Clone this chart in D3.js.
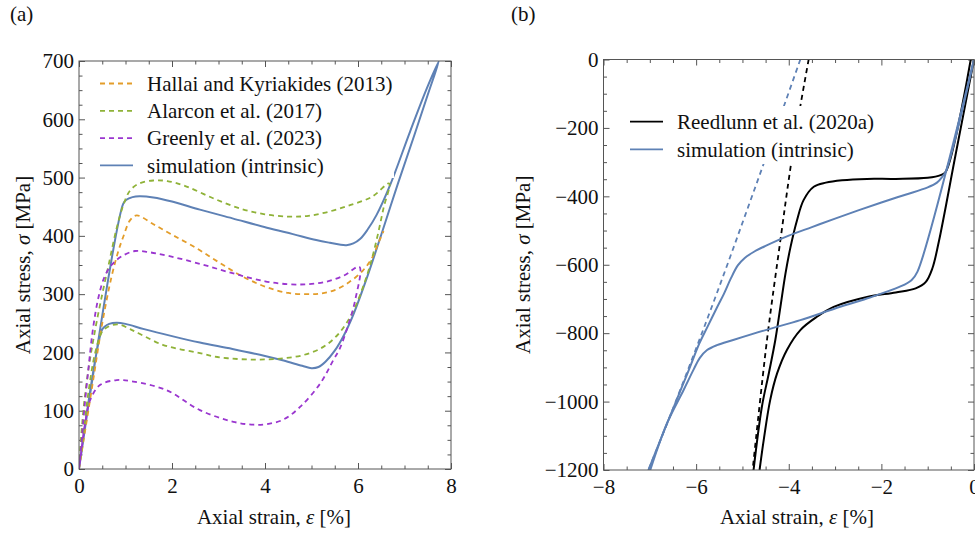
<!DOCTYPE html>
<html>
<head>
<meta charset="utf-8">
<script src="https://cdn.jsdelivr.net/npm/d3@7"></script>
<style>
  html, body { margin: 0; padding: 0; background: #fff; }
  svg { display: block; }
  text { font-family: "Liberation Serif", "Times New Roman", serif; fill: #111; }
</style>
</head>
<body>
<svg id="chart" width="975" height="535"></svg>
<script>
// ---------- Panel (a): tension, [strain %, stress MPa] ----------
const hallai = [
  [0, 0], [0.1, 50], [0.3, 150], [0.5, 250], [0.7, 330], [0.85, 375], [0.95, 398],
  [1.1, 427], [1.24, 435], [1.6, 420], [2.0, 402], [2.5, 380], [3.0, 355], [3.5, 331],
  [4.0, 313], [4.5, 302], [4.9, 300], [5.2, 301], [5.5, 307], [5.8, 320], [6.1, 340],
  [6.3, 362], [6.45, 390], [6.55, 408]
];
const alarcon = [
  [0, 0], [0.05, 60], [0.12, 120], [0.22, 180], [0.35, 240], [0.5, 300], [0.65, 355],
  [0.8, 410], [0.95, 452], [1.1, 478], [1.3, 490], [1.6, 495], [1.9, 494], [2.3, 485],
  [2.9, 464], [3.5, 446], [4.0, 437], [4.5, 433], [4.9, 434], [5.3, 440], [5.8, 452],
  [6.3, 467], [6.67, 490],
  [6.55, 448], [6.42, 400], [6.28, 355], [6.12, 315], [5.95, 280], [5.75, 250],
  [5.5, 225], [5.2, 207], [4.8, 195], [4.4, 190], [4.0, 188], [3.6, 188], [3.2, 190],
  [2.9, 193], [2.6, 199], [2.2, 205], [1.8, 213], [1.4, 228], [1.1, 240], [0.85, 248],
  [0.65, 245], [0.5, 236], [0.35, 200], [0.2, 130], [0.08, 50], [0, 0]
];
const greenly = [
  [0, 0], [0.05, 40], [0.1, 90], [0.2, 170], [0.3, 240], [0.42, 295], [0.55, 330],
  [0.7, 350], [0.9, 364], [1.2, 374], [1.5, 372], [1.9, 366], [2.6, 352], [3.3, 336],
  [4.0, 322], [4.5, 317], [4.9, 317], [5.3, 321], [5.7, 332], [6.03, 347],
  [5.94, 290], [5.79, 247], [5.61, 207], [5.47, 187], [5.19, 147], [4.76, 107],
  [4.4, 85], [4.04, 77], [3.75, 76], [3.32, 81], [2.6, 101], [1.89, 135], [1.17, 150],
  [0.81, 152.5], [0.45, 144], [0.24, 118], [0.13, 78], [0.05, 30], [0, 0]
];
const simulationA = [
  [0, 0], [0.95, 455], [1.02, 462], [1.15, 466.5], [1.3, 468], [1.6, 466], [2.0, 459],
  [2.6, 445], [3.3, 430], [4.04, 414], [4.6, 403], [5.1, 393], [5.4, 388], [5.6, 385],
  [5.75, 384], [5.9, 387], [6.05, 395], [6.2, 410], [6.4, 436], [6.69, 487], [7.12, 579],
  [7.48, 653], [7.74, 700],
  [7.5, 642], [7.2, 570], [6.86, 490], [6.5, 402], [6.2, 330], [5.9, 265], [5.7, 230],
  [5.5, 203], [5.3, 184], [5.15, 175], [5.0, 173], [4.8, 177], [4.4, 186], [4.0, 194],
  [3.3, 206], [2.6, 217], [2.0, 228], [1.4, 240], [1.0, 249], [0.81, 251], [0.65, 249],
  [0.55, 244], [0.49, 238], [0, 0]
];

// ---------- Panel (b): compression, [strain %, stress MPa] ----------
const reedlunnLoading = [
  [0, 0], [-0.4, -280], [-0.76, -533], [-0.9, -611], [-1.04, -650], [-1.26, -669],
  [-1.69, -681], [-2.31, -694], [-3.03, -723], [-3.39, -752], [-3.75, -791],
  [-4.04, -849], [-4.25, -917], [-4.4, -995], [-4.54, -1112], [-4.63, -1200]
];
const reedlunnUnloading = [
  [-4.76, -1200], [-4.58, -1015], [-4.43, -917], [-4.29, -820], [-4.18, -723],
  [-4.07, -625], [-3.96, -547], [-3.82, -469], [-3.68, -411], [-3.46, -372],
  [-3.2, -360], [-2.85, -353], [-2.31, -349], [-1.69, -349], [-1.0, -346],
  [-0.72, -338], [-0.61, -328], [-0.07, 0]
];
const reedlunnElastic = [
  [-3.57, 0], [-3.78, -160], [-3.96, -314], [-4.18, -528], [-4.47, -820], [-4.78, -1200]
];
const simulationLoadingB = [
  [0, 0], [-1.22, -620], [-1.35, -645], [-1.6, -664], [-2.3, -698], [-3.0, -728],
  [-3.75, -762], [-4.5, -791], [-5.2, -820], [-5.55, -835], [-5.77, -850], [-5.92, -872],
  [-6.05, -905], [-6.27, -966], [-6.63, -1064], [-6.99, -1200]
];
const simulationUnloadingB = [
  [-7.03, -1200], [-6.75, -1105], [-6.45, -1005], [-6.15, -905], [-5.93, -830],
  [-5.75, -780], [-5.55, -725], [-5.4, -685], [-5.25, -640], [-5.1, -602],
  [-4.95, -580], [-4.75, -562], [-4.5, -545], [-4.0, -515], [-3.5, -490],
  [-3.0, -465], [-2.5, -441], [-2.0, -418], [-1.5, -396], [-1.0, -374],
  [-0.8, -360], [-0.68, -342], [-0.61, -328], [0, 0]
];
const simulationElasticB = [
  [-3.75, 0], [-4.14, -150], [-4.54, -304], [-4.94, -455], [-5.34, -605],
  [-5.75, -755], [-6.17, -905], [-6.6, -1055], [-7.03, -1200]
];

// ---------- tick labels ----------
const aXTicks = [0, 2, 4, 6, 8];
const aYTicks = [0, 100, 200, 300, 400, 500, 600, 700];
const bXTicks = [-8, -6, -4, -2, 0];
const bYTicks = [-1200, -1000, -800, -600, -400, -200, 0];

// ---------- legends ----------
const legendA = ["Hallai and Kyriakides (2013)", "Alarcon et al. (2017)", "Greenly et al. (2023)", "simulation (intrinsic)"];
const legendB = ["Reedlunn et al. (2020a)", "simulation (intrinsic)"];

// ---------- styling ----------
const COL = { orange: "#E39D2A", green: "#8FB238", purple: "#9A36CF", blue: "#5E81B5", black: "#000" };
const FONT = 21;
const DASH = "5,4";
const FRAME = "#555";
const tickFmt = d3.format("d");

const svg = d3.select("#chart");

function panel(opts) {
  const { id, x, y, xMajor, yMajor, xMinorStep, yMinorStep, series, legend, legendBox, xLabelX, yLabelX, tag, tagX } = opts;
  const g = svg.append("g");
  const [x0, x1] = x.range();
  const [y0, y1] = y.range(); // y0 bottom, y1 top

  g.append("clipPath").attr("id", id).append("rect")
    .attr("x", x0).attr("y", y1).attr("width", x1 - x0).attr("height", y0 - y1);

  // minor tick positions between the labelled ones
  const xd = x.domain(), yd = y.domain();
  const xMinor = d3.range(xd[0], xd[1] + 1e-9, xMinorStep).filter(v => !xMajor.some(m => Math.abs(m - v) < 1e-9));
  const yMinor = d3.range(yd[0], yd[1] + 1e-9, yMinorStep).filter(v => !yMajor.some(m => Math.abs(m - v) < 1e-9));

  const styleAxis = sel => {
    sel.attr("font-family", null).attr("font-size", null);
    sel.select(".domain").remove();
    sel.selectAll(".tick line").attr("stroke", FRAME).attr("stroke-width", 1);
    sel.selectAll(".tick text").attr("font-size", FONT).attr("fill", "#111");
  };

  // bottom
  g.append("g").attr("transform", `translate(0,${y0})`)
    .call(d3.axisBottom(x).tickValues(xMajor).tickSize(-6).tickPadding(9).tickFormat(tickFmt)).call(styleAxis);
  g.append("g").attr("transform", `translate(0,${y0})`)
    .call(d3.axisBottom(x).tickValues(xMinor).tickSize(-3.5).tickFormat("")).call(styleAxis);
  // top
  g.append("g").attr("transform", `translate(0,${y1})`)
    .call(d3.axisTop(x).tickValues(xMajor).tickSize(-6).tickFormat("")).call(styleAxis);
  g.append("g").attr("transform", `translate(0,${y1})`)
    .call(d3.axisTop(x).tickValues(xMinor).tickSize(-3.5).tickFormat("")).call(styleAxis);
  // left
  g.append("g").attr("transform", `translate(${x0},0)`)
    .call(d3.axisLeft(y).tickValues(yMajor).tickSize(-6).tickPadding(5).tickFormat(tickFmt)).call(styleAxis);
  g.append("g").attr("transform", `translate(${x0},0)`)
    .call(d3.axisLeft(y).tickValues(yMinor).tickSize(-3.5).tickFormat("")).call(styleAxis);
  // right
  g.append("g").attr("transform", `translate(${x1},0)`)
    .call(d3.axisRight(y).tickValues(yMajor).tickSize(-6).tickFormat("")).call(styleAxis);
  g.append("g").attr("transform", `translate(${x1},0)`)
    .call(d3.axisRight(y).tickValues(yMinor).tickSize(-3.5).tickFormat("")).call(styleAxis);

  // data curves
  const line = d3.line().x(d => x(d[0])).y(d => y(d[1])).curve(d3.curveCatmullRom.alpha(0.5));
  const plot = g.append("g").attr("clip-path", `url(#${id})`);
  series.forEach(s => {
    plot.append("path").datum(s.data)
      .attr("d", line)
      .attr("fill", "none")
      .attr("stroke", s.color)
      .attr("stroke-width", s.width || 1.8)
      .attr("stroke-dasharray", s.dashed ? DASH : null)
      .attr("stroke-linejoin", "round");
  });

  // legend on a white box that hides curves behind it
  const lg = g.append("g");
  lg.append("rect").attr("x", legendBox.x).attr("y", legendBox.y)
    .attr("width", legendBox.w).attr("height", legendBox.h).attr("fill", "#fff");
  legend.forEach((item, i) => {
    const yy = legendBox.rowY + i * legendBox.rowH;
    lg.append("line").attr("x1", legendBox.lx).attr("x2", legendBox.lx + 33)
      .attr("y1", yy).attr("y2", yy)
      .attr("stroke", item.color).attr("stroke-width", 1.8)
      .attr("stroke-dasharray", item.dashed ? DASH : null);
    lg.append("text").attr("x", legendBox.tx).attr("y", yy).attr("dy", "0.34em")
      .attr("font-size", FONT).text(item.label);
  });

  // frame
  g.append("rect").attr("x", x0).attr("y", y1).attr("width", x1 - x0).attr("height", y0 - y1)
    .attr("fill", "none").attr("stroke", FRAME).attr("stroke-width", 1);

  // axis titles
  const xt = g.append("text").attr("x", xLabelX).attr("y", 524).attr("text-anchor", "middle").attr("font-size", FONT);
  xt.append("tspan").text("Axial strain, ");
  xt.append("tspan").attr("font-style", "italic").text("ε");
  xt.append("tspan").text(" [%]");

  const yt = g.append("text").attr("transform", `translate(${yLabelX},${(y0 + y1) / 2}) rotate(-90)`)
    .attr("text-anchor", "middle").attr("font-size", FONT);
  yt.append("tspan").text("Axial stress, ");
  yt.append("tspan").attr("font-style", "italic").text("σ");
  yt.append("tspan").text(" [MPa]");

  svg.append("text").attr("x", tagX).attr("y", 21).attr("font-size", FONT).text(tag);
}

// Panel (a)
panel({
  id: "clipA",
  x: d3.scaleLinear().domain([0, 8]).range([79, 451]),
  y: d3.scaleLinear().domain([0, 700]).range([469, 61]),
  xMajor: aXTicks, yMajor: aYTicks, xMinorStep: 0.5, yMinorStep: 25,
  series: [
    { data: simulationA, color: COL.blue, dashed: false, width: 2 },
    { data: hallai, color: COL.orange, dashed: true },
    { data: alarcon, color: COL.green, dashed: true },
    { data: greenly, color: COL.purple, dashed: true }
  ],
  legend: [
    { label: legendA[0], color: COL.orange, dashed: true },
    { label: legendA[1], color: COL.green, dashed: true },
    { label: legendA[2], color: COL.purple, dashed: true },
    { label: legendA[3], color: COL.blue, dashed: false }
  ],
  legendBox: { x: 94, y: 68, w: 300, h: 110, lx: 100, tx: 147, rowY: 83.5, rowH: 27.3 },
  xLabelX: 274, yLabelX: 30, tag: "(a)", tagX: 10
});

// Panel (b)
panel({
  id: "clipB",
  x: d3.scaleLinear().domain([-8, 0]).range([603.5, 974]),
  y: d3.scaleLinear().domain([-1200, 0]).range([470, 59.5]),
  xMajor: bXTicks, yMajor: bYTicks, xMinorStep: 0.5, yMinorStep: 50,
  series: [
    { data: reedlunnElastic, color: COL.black, dashed: true },
    { data: simulationElasticB, color: COL.blue, dashed: true },
    { data: reedlunnLoading, color: COL.black, dashed: false, width: 2 },
    { data: reedlunnUnloading, color: COL.black, dashed: false, width: 2 },
    { data: simulationLoadingB, color: COL.blue, dashed: false, width: 2 },
    { data: simulationUnloadingB, color: COL.blue, dashed: false, width: 2 }
  ],
  legend: [
    { label: legendB[0], color: COL.black, dashed: false },
    { label: legendB[1], color: COL.blue, dashed: false }
  ],
  legendBox: { x: 622, y: 106, w: 258, h: 58, lx: 630, tx: 677, rowY: 121.7, rowH: 27.7 },
  xLabelX: 797, yLabelX: 530, tag: "(b)", tagX: 511
});
</script>
</body>
</html>
